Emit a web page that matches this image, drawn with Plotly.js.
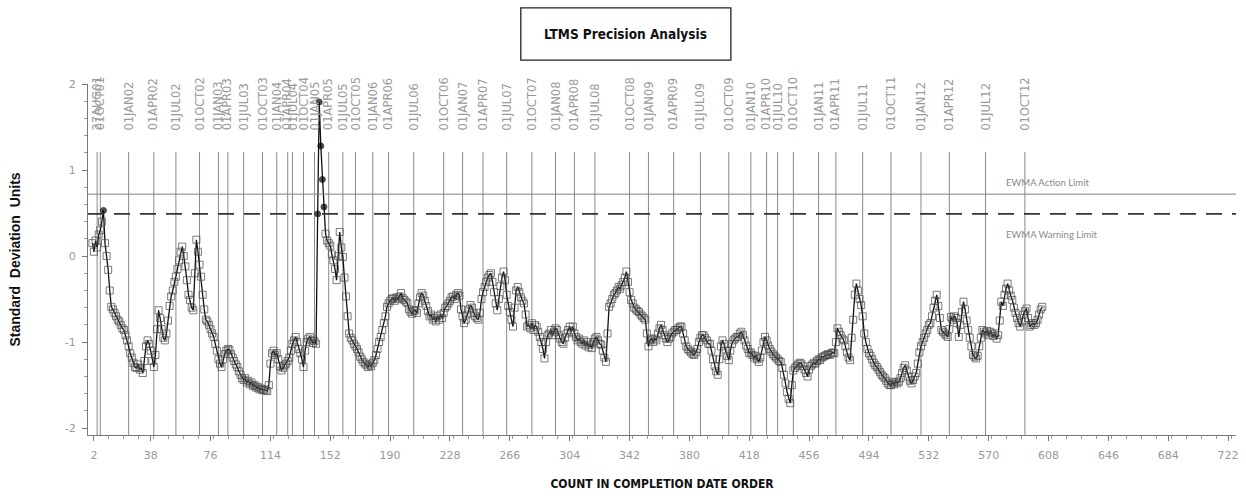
<!DOCTYPE html>
<html>
<head>
<meta charset="utf-8">
<script src="https://cdn.plot.ly/plotly-3.0.1.min.js"></script>
<style>html,body{margin:0;padding:0;background:#fff;}#chart{width:1246px;height:498px;}</style>
</head>
<body>
<div id="chart"></div>
<script>
// EWMA values in completion-date order (count 1..604)
const ewmaValues = [
0.15,0.05,0.18,0.10,0.25,0.30,0.40,0.53,0.15,0.00,
-0.16,-0.40,-0.59,-0.62,-0.66,-0.70,-0.74,-0.76,-0.80,-0.84,
-0.86,-0.92,-0.98,-1.05,-1.13,-1.18,-1.24,-1.29,-1.30,-1.26,
-1.32,-1.30,-1.36,-1.22,-1.05,-0.98,-1.02,-1.10,-1.22,-1.29,
-1.15,-0.85,-0.63,-0.72,-0.85,-0.95,-0.98,-0.90,-0.75,-0.58,
-0.47,-0.40,-0.30,-0.24,-0.15,-0.05,0.05,0.11,0.00,-0.12,
-0.28,-0.45,-0.51,-0.60,-0.63,-0.20,0.19,0.05,-0.10,-0.24,
-0.45,-0.62,-0.74,-0.76,-0.80,-0.85,-0.90,-0.94,-1.02,-1.10,
-1.20,-1.25,-1.29,-1.20,-1.14,-1.10,-1.08,-1.09,-1.14,-1.18,
-1.22,-1.26,-1.29,-1.34,-1.38,-1.42,-1.44,-1.42,-1.47,-1.45,
-1.49,-1.47,-1.51,-1.50,-1.53,-1.52,-1.55,-1.54,-1.56,-1.55,
-1.56,-1.57,-1.50,-1.25,-1.13,-1.10,-1.15,-1.13,-1.20,-1.28,
-1.33,-1.30,-1.27,-1.25,-1.22,-1.18,-1.10,-1.02,-0.98,-0.94,
-1.00,-1.08,-1.13,-1.20,-1.29,-1.10,-1.00,-0.96,-0.94,-0.98,
-1.01,-0.99,-1.02,0.49,1.79,1.28,0.89,0.57,0.26,0.18,
0.15,0.12,0.02,-0.05,-0.15,-0.28,0.00,0.28,0.10,-0.01,
-0.25,-0.47,-0.70,-0.90,-0.95,-0.98,-1.02,-1.05,-1.08,-1.12,
-1.17,-1.20,-1.23,-1.25,-1.27,-1.29,-1.26,-1.28,-1.24,-1.21,
-1.15,-1.08,-1.00,-0.94,-0.86,-0.78,-0.70,-0.59,-0.55,-0.52,
-0.50,-0.49,-0.52,-0.48,-0.50,-0.47,-0.43,-0.49,-0.51,-0.53,
-0.55,-0.62,-0.65,-0.67,-0.64,-0.63,-0.66,-0.55,-0.48,-0.43,
-0.46,-0.52,-0.58,-0.64,-0.70,-0.68,-0.74,-0.72,-0.76,-0.70,
-0.74,-0.68,-0.72,-0.66,-0.60,-0.58,-0.55,-0.52,-0.48,-0.47,
-0.50,-0.45,-0.43,-0.46,-0.62,-0.70,-0.78,-0.74,-0.68,-0.62,
-0.57,-0.60,-0.66,-0.70,-0.72,-0.74,-0.66,-0.50,-0.42,-0.36,
-0.30,-0.25,-0.22,-0.20,-0.30,-0.42,-0.55,-0.63,-0.50,-0.35,
-0.25,-0.18,-0.28,-0.45,-0.58,-0.65,-0.74,-0.82,-0.60,-0.40,
-0.36,-0.42,-0.48,-0.52,-0.55,-0.68,-0.82,-0.80,-0.84,-0.78,
-0.86,-0.80,-0.82,-0.88,-0.94,-1.00,-1.08,-1.19,-1.00,-0.92,
-0.90,-0.86,-0.92,-0.88,-0.84,-0.86,-0.92,-0.96,-1.00,-1.02,
-0.95,-0.90,-0.86,-0.82,-0.88,-0.82,-0.90,-0.94,-0.98,-0.96,
-1.00,-1.02,-0.98,-1.04,-1.00,-1.06,-1.03,-1.07,-1.00,-0.96,
-0.94,-0.98,-1.02,-1.03,-1.10,-1.18,-1.23,-0.90,-0.59,-0.55,
-0.50,-0.45,-0.43,-0.40,-0.36,-0.38,-0.34,-0.30,-0.25,-0.18,
-0.30,-0.42,-0.51,-0.55,-0.60,-0.62,-0.64,-0.65,-0.68,-0.70,
-0.72,-0.74,-0.90,-1.05,-0.98,-0.96,-1.00,-0.96,-0.98,-0.90,
-0.84,-0.80,-0.86,-0.92,-0.96,-1.00,-0.96,-0.94,-0.90,-0.88,
-0.86,-0.86,-0.84,-0.82,-0.82,-0.90,-0.98,-1.05,-1.08,-1.10,
-1.12,-1.14,-1.15,-1.12,-1.08,-1.00,-0.95,-0.92,-0.92,-0.95,
-0.98,-1.02,-1.02,-1.10,-1.20,-1.28,-1.34,-1.38,-1.20,-1.05,
-0.98,-1.02,-1.10,-1.16,-1.21,-1.10,-1.02,-0.98,-0.96,-0.94,
-0.94,-0.90,-0.88,-0.92,-0.98,-1.04,-1.08,-1.13,-1.12,-1.15,
-1.18,-1.16,-1.20,-1.23,-1.18,-1.10,-1.00,-0.94,-0.98,-1.04,
-1.08,-1.11,-1.14,-1.16,-1.18,-1.20,-1.22,-1.23,-1.30,-1.38,
-1.48,-1.58,-1.66,-1.71,-1.50,-1.33,-1.30,-1.28,-1.26,-1.24,
-1.25,-1.28,-1.32,-1.36,-1.40,-1.32,-1.28,-1.26,-1.24,-1.25,
-1.22,-1.20,-1.21,-1.18,-1.17,-1.16,-1.15,-1.14,-1.15,-1.13,
-1.12,-1.13,-1.00,-0.84,-0.88,-0.92,-0.96,-0.98,-1.05,-1.12,
-1.18,-1.21,-0.95,-0.74,-0.45,-0.32,-0.40,-0.50,-0.57,-0.70,
-0.90,-1.00,-1.08,-1.13,-1.16,-1.20,-1.24,-1.27,-1.29,-1.32,
-1.35,-1.38,-1.40,-1.42,-1.45,-1.48,-1.50,-1.50,-1.47,-1.49,
-1.46,-1.48,-1.46,-1.42,-1.36,-1.30,-1.27,-1.33,-1.40,-1.45,
-1.48,-1.44,-1.40,-1.36,-1.25,-1.12,-1.05,-1.00,-0.95,-0.90,
-0.86,-0.80,-0.78,-0.70,-0.60,-0.52,-0.45,-0.58,-0.72,-0.86,
-0.88,-0.90,-0.92,-0.94,-0.85,-0.71,-0.74,-0.70,-0.72,-0.78,
-0.94,-0.80,-0.65,-0.53,-0.62,-0.75,-0.86,-0.95,-1.05,-1.15,
-1.17,-1.19,-1.16,-1.05,-0.95,-0.86,-0.88,-0.90,-0.87,-0.92,
-0.88,-0.90,-0.93,-0.90,-0.96,-0.92,-0.75,-0.53,-0.58,-0.45,
-0.38,-0.32,-0.40,-0.46,-0.51,-0.60,-0.66,-0.72,-0.78,-0.82,
-0.76,-0.68,-0.64,-0.61,-0.72,-0.82,-0.80,-0.78,-0.80,-0.78,
-0.74,-0.68,-0.62,-0.59
];
const counts = ewmaValues.map((v, i) => i + 1);

// Date markers (count position and label)
const dateCounts = [4,6,24,40,54,69,81,87,97,109,118,125,128,135,142,151,160,168,179,189,205,224,236,249,264,280,295,307,320,342,354,370,387,405,419,429,436,446,462,473,490,508,527,545,568,593];
const dateLabels = ["27AUG01","01OCT01","01JAN02","01APR02","01JUL02","01OCT02","01JAN03","01APR03","01JUL03","01OCT03","01JAN04","01APR04","01JUL04","01OCT04","01JAN05","01APR05","01JUL05","01OCT05","01JAN06","01APR06","01JUL06","01OCT06","01JAN07","01APR07","01JUL07","01OCT07","01JAN08","01APR08","01JUL08","01OCT08","01JAN09","01APR09","01JUL09","01OCT09","01JAN10","01APR10","01JUL10","01OCT10","01JAN11","01APR11","01JUL11","01OCT11","01JAN12","01APR12","01JUL12","01OCT12"];

// Limits
const actionLimit = 0.72;
const warningLimit = 0.49;

// Axis ticks
const xTickVals = [2,38,76,114,152,190,228,266,304,342,380,418,456,494,532,570,608,646,684,722];
const yTickVals = [-2,-1,0,1,2];

const symbols = ewmaValues.map(v => v >= warningLimit ? 'circle' : 'square-open');
const sizes = ewmaValues.map(v => v >= warningLimit ? 6 : 7);
const mcolors = ewmaValues.map(v => v >= warningLimit ? '#000' : '#444');

const trace = {
  x: counts, y: ewmaValues, type: 'scatter', mode: 'lines+markers',
  line: {color: '#111', width: 1.3},
  marker: {symbol: symbols, size: sizes, color: mcolors, line: {color: mcolors, width: 1}},
  showlegend: false, hoverinfo: 'x+y'
};

const shapes = [];
const annotations = [];
dateCounts.forEach((c, i) => {
  shapes.push({type: 'line', xref: 'x', yref: 'paper', x0: c, x1: c, y0: 0, y1: 0.806,
    line: {color: '#8a8a8a', width: 1}, layer: 'below'});
  annotations.push({xref: 'x', yref: 'paper', x: c, y: 0.862, text: dateLabels[i],
    textangle: -90, showarrow: false, xanchor: 'center', yanchor: 'bottom',
    font: {family: 'DejaVu Sans', size: 11.5, color: '#9a9a9a'}});
});
// Limits
shapes.push({type: 'line', xref: 'paper', yref: 'y', x0: 0, x1: 1, y0: actionLimit, y1: actionLimit,
  line: {color: '#808080', width: 1}});
shapes.push({type: 'line', xref: 'paper', yref: 'y', x0: 0, x1: 1, y0: warningLimit, y1: warningLimit,
  line: {color: '#333', width: 1.6, dash: '16px,10px'}});
// Title box
shapes.push({type: 'rect', xref: 'paper', yref: 'paper', x0: 0.377, x1: 0.560, y0: 1.068, y1: 1.217,
  line: {color: '#222', width: 1.3}, fillcolor: 'rgba(0,0,0,0)'});

annotations.push({xref: 'paper', yref: 'paper', x: 0.4686, y: 1.142, text: '<b>LTMS Precision Analysis</b>',
  showarrow: false, xanchor: 'center', yanchor: 'middle',
  font: {family: 'DejaVu Sans Condensed, Liberation Sans Narrow, Liberation Sans', size: 13.5, color: '#111'}});
annotations.push({xref: 'paper', yref: 'y', x: 0.798, y: 0.86, text: 'EWMA Action Limit',
  showarrow: false, xanchor: 'left', yanchor: 'middle',
  font: {family: 'Lato, Noto Sans', size: 9.5, color: '#8a8a8a'}});
annotations.push({xref: 'paper', yref: 'y', x: 0.798, y: 0.245, text: 'EWMA Warning Limit',
  showarrow: false, xanchor: 'left', yanchor: 'middle',
  font: {family: 'Lato, Noto Sans', size: 9.5, color: '#8a8a8a'}});

const layout = {
  width: 1246, height: 498,
  margin: {l: 88, r: 10, t: 84, b: 63},
  paper_bgcolor: '#fff', plot_bgcolor: '#fff',
  xaxis: {
    range: [-1.8, 727], tickvals: xTickVals, ticktext: xTickVals.map(String),
    showgrid: false, zeroline: false, showline: true, linecolor: '#777', linewidth: 1,
    ticks: 'outside', ticklen: 5, tickcolor: '#777', ticklabelstandoff: 5,
    minor: {dtick: 9.5, tick0: 2, ticks: 'outside', ticklen: 3, tickcolor: '#999', showgrid: false},
    tickfont: {family: 'DejaVu Sans', size: 11, color: '#999'},
    title: {text: '<b>COUNT IN COMPLETION DATE ORDER</b>', standoff: 18,
      font: {family: 'DejaVu Sans Condensed, Liberation Sans Narrow, Liberation Sans', size: 12, color: '#111'}}
  },
  yaxis: {
    range: [-2.08, 2.0], tickvals: yTickVals, ticktext: yTickVals.map(String),
    showgrid: false, zeroline: false, showline: true, linecolor: '#777', linewidth: 1,
    ticks: 'outside', ticklen: 5, tickcolor: '#777', ticklabelstandoff: 4,
    minor: {dtick: 0.2, ticks: 'outside', ticklen: 3, tickcolor: '#999', showgrid: false},
    tickfont: {family: 'DejaVu Sans', size: 11, color: '#999'},
    title: {text: '<b>Standard  Deviation  Units</b>', standoff: 40,
      font: {family: 'Liberation Sans, Arial', size: 14, color: '#111'}}
  },
  shapes: shapes,
  annotations: annotations
};

Plotly.newPlot('chart', [trace], layout, {displayModeBar: false, responsive: false});
</script>
</body>
</html>
